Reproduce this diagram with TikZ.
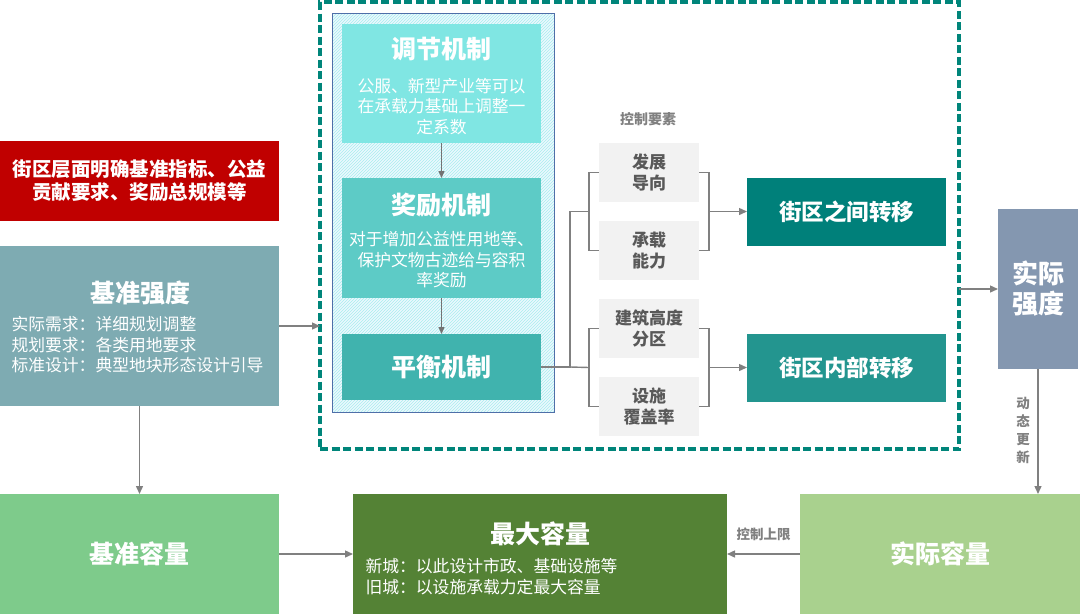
\documentclass[tikz,border=0pt]{standalone}
\usepackage{fontspec}
\setmainfont{Noto Sans CJK SC}
\usetikzlibrary{positioning, arrows.meta, patterns, calc}

\definecolor{redbox}{HTML}{C00000}
\definecolor{basestr}{HTML}{7EABB2}
\definecolor{tjfill}{HTML}{80E6E3}
\definecolor{jlfill}{HTML}{5DCBC6}
\definecolor{phfill}{HTML}{40B3AE}
\definecolor{jqfill}{HTML}{00807A}
\definecolor{nbfill}{HTML}{23958F}
\definecolor{sjfill}{HTML}{8497B0}
\definecolor{jzfill}{HTML}{7ECB8B}
\definecolor{zdfill}{HTML}{548235}
\definecolor{sjcap}{HTML}{A9D18E}
\definecolor{elfill}{HTML}{F2F2F2}
\definecolor{eltext}{HTML}{595959}
\definecolor{arrgray}{HTML}{808080}
\definecolor{dashteal}{HTML}{00857A}
\definecolor{mechline}{HTML}{4F6FA8}
\definecolor{hatch}{HTML}{A8EEEE}

\tikzset{
  blk/.style={draw=none, inner sep=0pt, outer sep=0pt},
  ttl/.style={text=white, font=\fontsize{25}{29}\selectfont\bfseries},
  body/.style={text=white, font=\fontsize{16.8}{20.5}\selectfont},
  elem/.style={blk, fill=elfill, minimum width=100pt, minimum height=59pt,
    text=eltext, align=center, font=\fontsize{17}{21}\selectfont\bfseries},
  note/.style={text=arrgray, font=\fontsize{13.5}{18}\selectfont\bfseries},
  arr/.style={-{Triangle[length=8pt,width=7pt]}, draw=arrgray, line width=1.4pt},
  lnk/.style={draw=arrgray, line width=1.4pt}
}

\begin{document}
\begin{tikzpicture}[x=1pt, y=-1pt]
\useasboundingbox (0,0) rectangle (1080,614);

% left column
\node[blk, fill=redbox, minimum width=279pt, minimum height=80pt, text=white,
  align=center, font=\fontsize{19.5}{23}\selectfont\bfseries] (req) at (139.5,180.5)
  {街区层面明确基准指标、公益\\贡献要求、奖励总规模等};
\node[blk, fill=basestr, minimum width=279pt, minimum height=160pt] (jzqd) at (139.5,326) {};
\node[ttl] (jzqdT) at (140,293) {基准强度};
\node[body, anchor=west, align=left] (jzqdB) at (8,345)
  {实际需求：详细规划调整\\规划要求：各类用地要求\\标准设计：典型地块形态设计引导};

% dashed frame and mechanisms
\node[blk, draw=dashteal, line width=3.3pt, dash pattern=on 8pt off 3.5pt,
  minimum width=639pt, minimum height=447pt] (ctrl) at (639.5,225.5) {};
\node[blk, draw=mechline, line width=1pt, preaction={fill=cyan!8},
  pattern=north east lines, pattern color=hatch,
  minimum width=222pt, minimum height=399pt] (mech) at (443,212.5) {};

\node[blk, fill=tjfill, minimum width=199pt, minimum height=119pt] (tj) at (441.5,83.5) {};
\node[ttl] at (441.5,49) {调节机制};
\node[body, align=center] at (441.5,106.5) {公服、新型产业等可以\\在承载力基础上调整一\\定系数};

\node[blk, fill=jlfill, minimum width=199pt, minimum height=120pt] (jl) at (441.5,238) {};
\node[ttl] at (441.5,205) {奖励机制};
\node[body, align=center] at (441.5,260) {对于增加公益性用地等、\\保护文物古迹给与容积\\率奖励};

\node[blk, fill=phfill, minimum width=199pt, minimum height=66pt, ttl] (ph) at (441.5,367) {平衡机制};

\draw[-{Triangle[length=7pt,width=6pt]}, draw=black!55, line width=1.2pt] (tj.south) -- (jl.north);
\draw[-{Triangle[length=7pt,width=6pt]}, draw=black!55, line width=1.2pt] (jl.south) -- (ph.north);

% control elements
\node[note, font=\fontsize{14}{16}\selectfont\bfseries] (kzys) at (648,119) {控制要素};
\node[elem] (fz) at (649,172.5) {发展\\导向};
\node[elem] (cz) at (649,250.5) {承载\\能力};
\node[elem] (jz) at (649,328.5) {建筑高度\\分区};
\node[elem] (ss) at (649,406.5) {设施\\覆盖率};

\node[blk, fill=jqfill, minimum width=199pt, minimum height=68pt, text=white,
  font=\fontsize{22.5}{26}\selectfont\bfseries] (jq) at (846.5,211.5) {街区之间转移};
\node[blk, fill=nbfill, minimum width=199pt, minimum height=68pt, text=white,
  font=\fontsize{22.5}{26}\selectfont\bfseries] (nb) at (846.5,367.5) {街区内部转移};

\coordinate (split) at (570,367);
\coordinate (bl1) at ($(fz.west)!0.5!(cz.west)+(-10,0)$);
\coordinate (bl2) at ($(jz.west)!0.5!(ss.west)+(-10,0)$);
\coordinate (br1) at ($(fz.east)!0.5!(cz.east)+(10,0)$);
\coordinate (br2) at ($(jz.east)!0.5!(ss.east)+(10,0)$);

\draw[lnk] (ph.east) -- (split) |- (bl1);
\draw[lnk] (split) -- (bl2);
\draw[lnk] (fz.west) -- ++(-10,0) |- (cz.west);
\draw[lnk] (jz.west) -- ++(-10,0) |- (ss.west);
\draw[lnk] (fz.east) -- ++(10,0) |- (cz.east);
\draw[lnk] (jz.east) -- ++(10,0) |- (ss.east);
\draw[arr] (br1) -- (jq.west |- br1);
\draw[arr] (br2) -- (nb.west |- br2);

% right column
\node[blk, fill=sjfill, minimum width=80pt, minimum height=160pt, text=white,
  align=center, font=\fontsize{26}{30}\selectfont\bfseries] (sjqd) at (1038,289) {实际\\强度};

% bottom row
\node[blk, fill=jzfill, minimum width=279pt, minimum height=120pt, ttl] (jzrl) at (139.5,554) {基准容量};
\node[blk, fill=zdfill, minimum width=374pt, minimum height=120pt] (zdrl) at (540,554) {};
\node[ttl] at (540,534) {最大容量};
\node[body, anchor=west, align=left] at (362,576.5) {新城：以此设计市政、基础设施等\\旧城：以设施承载力定最大容量};
\node[blk, fill=sjcap, minimum width=280pt, minimum height=120pt, ttl] (sjrl) at (940,554) {实际容量};

% connectors
\draw[arr] (jzqd.east) -- (ctrl.west |- jzqd.east);
\draw[arr] (jzqd.south) -- (jzrl.north);
\draw[arr] (ctrl.east |- sjqd.west) -- (sjqd.west);
\draw[arr] (sjqd.south) -- (sjqd.south |- sjrl.north);
\node[note, align=center] (dtgx) at (1023,430) {动\\态\\更\\新};
\draw[arr] (jzrl.east) -- (zdrl.west);
\draw[arr] (sjrl.west) -- node[note, above=9pt] (kzsx) {控制上限} (zdrl.east);
\end{tikzpicture}
\end{document}
